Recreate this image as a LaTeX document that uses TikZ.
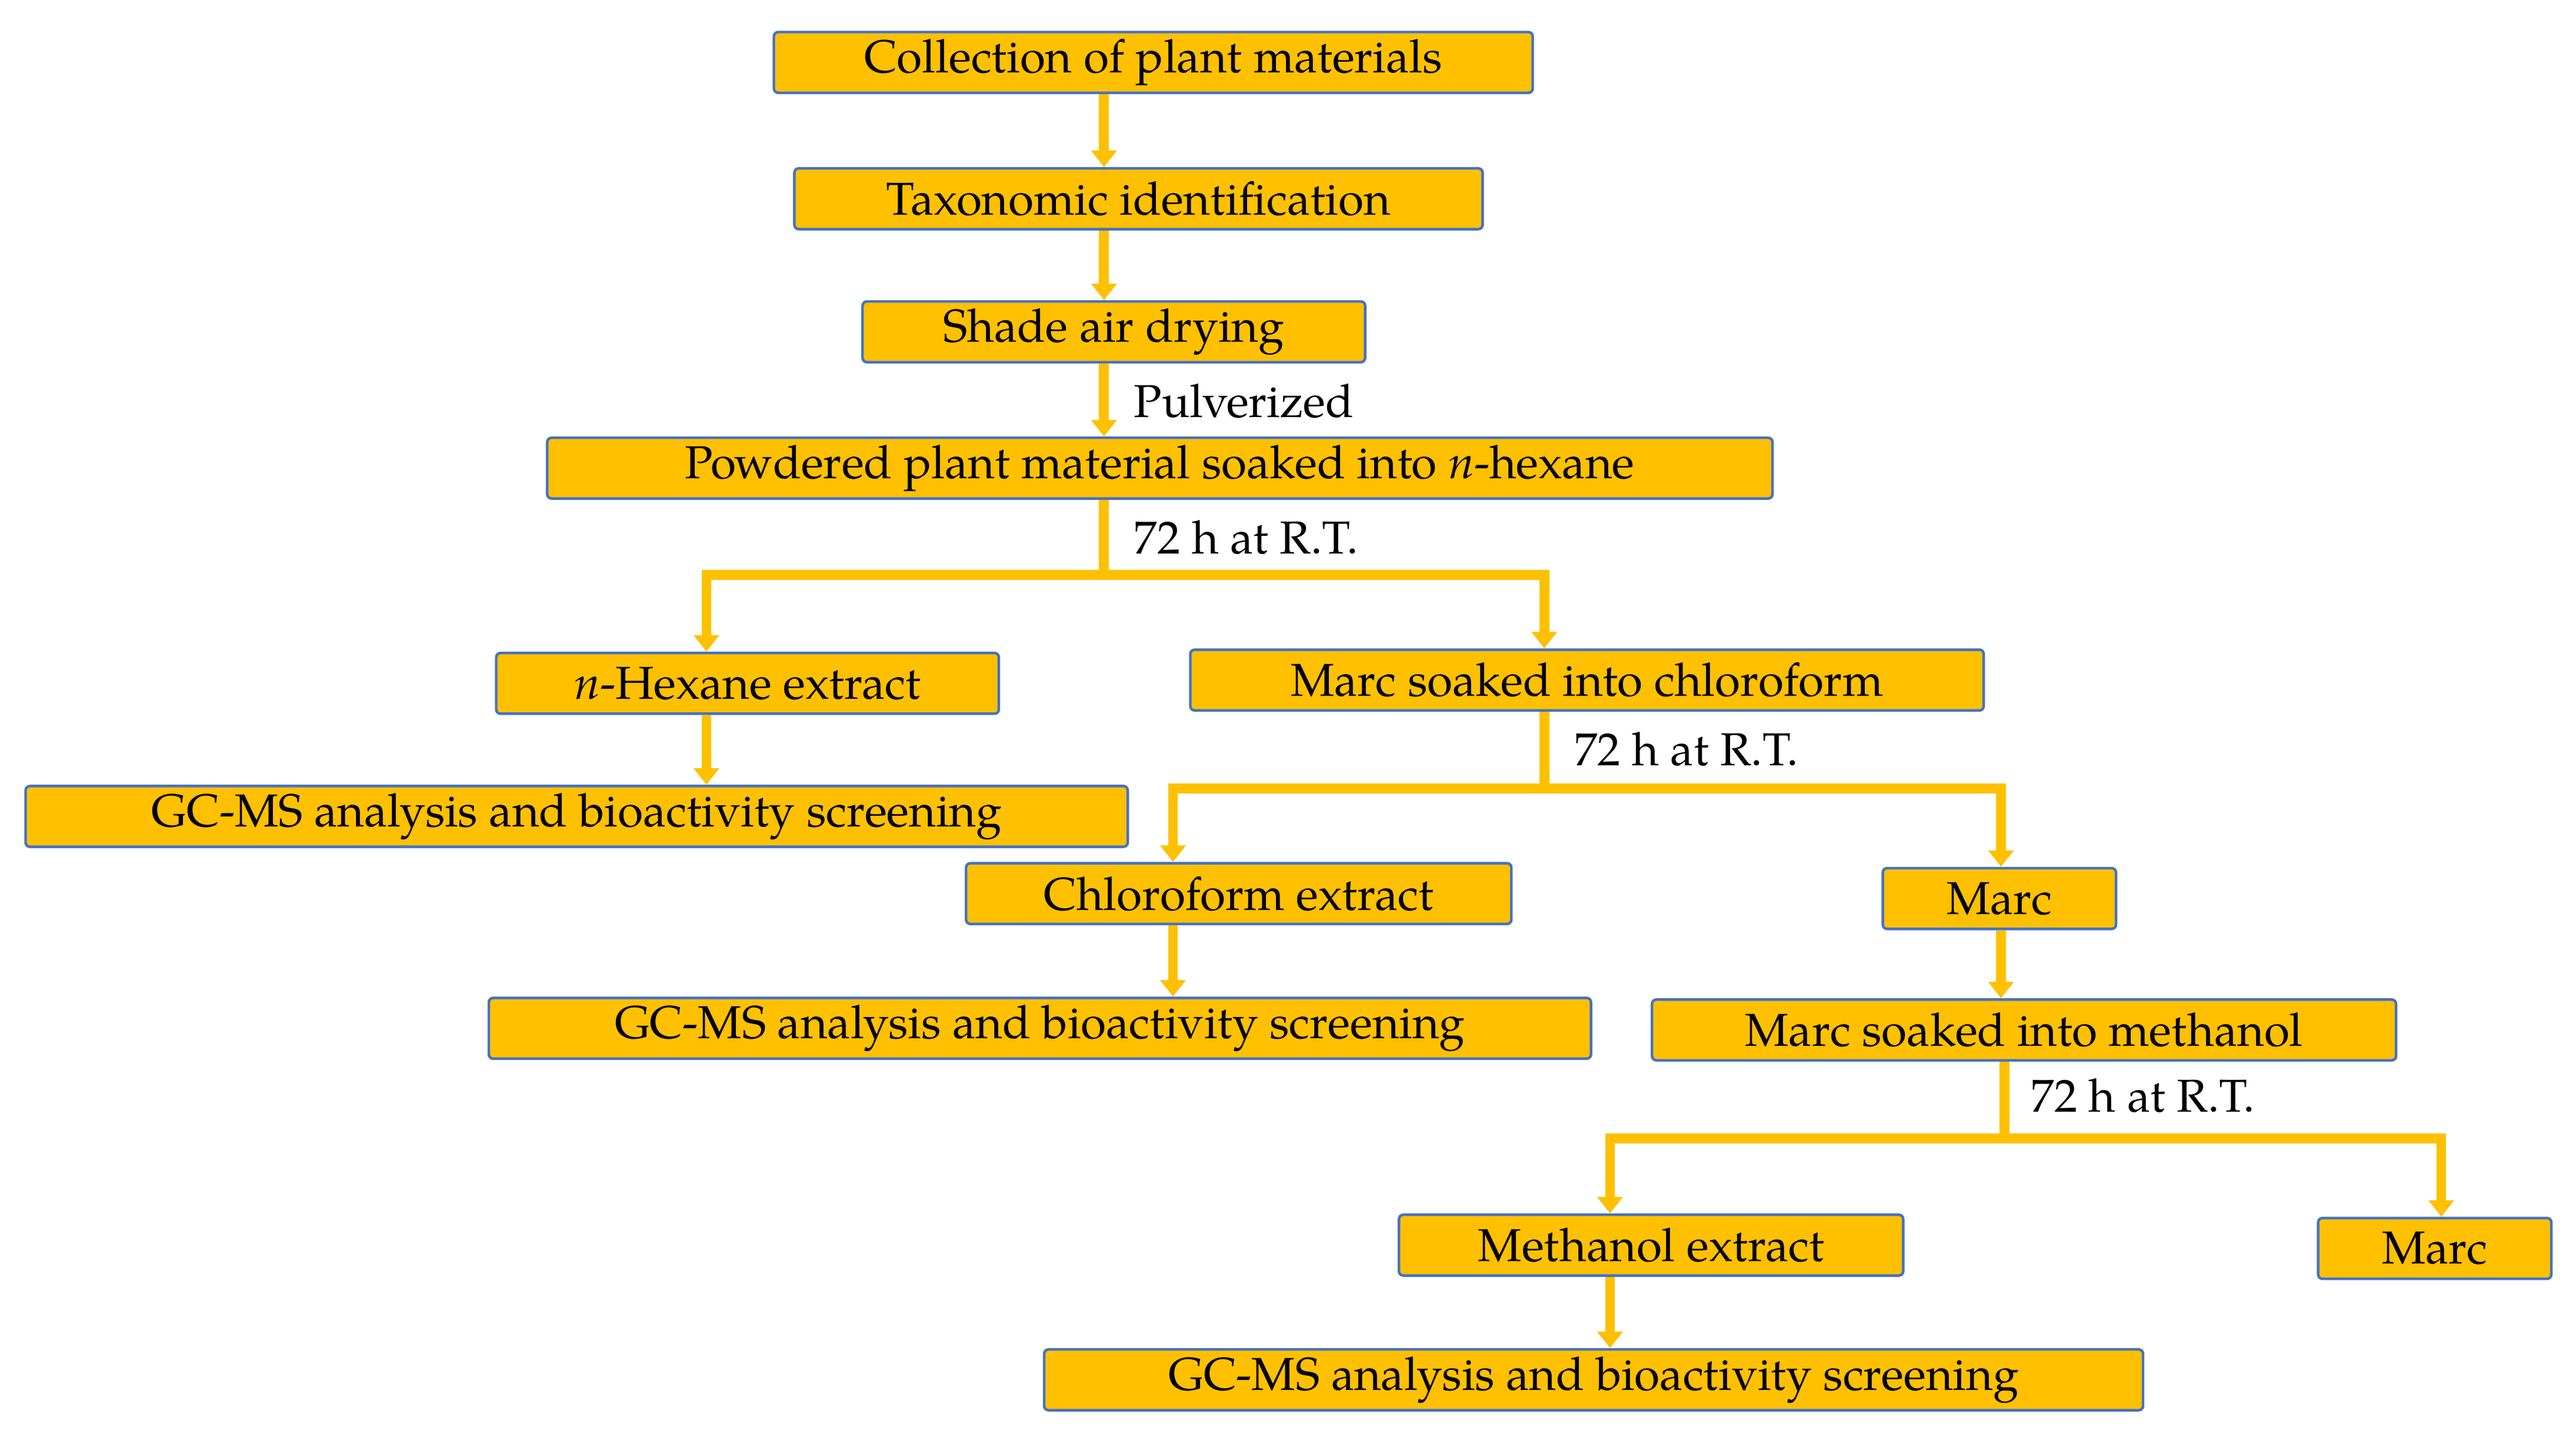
\documentclass[tikz,border=0pt]{standalone}
\usepackage{fontspec}
\setmainfont{TeX Gyre Pagella}
\usetikzlibrary{arrows.meta}
\definecolor{boxy}{HTML}{FFC000}
\definecolor{edge}{HTML}{4472C4}
\tikzset{
 bx/.style={draw=edge,line width=0.9pt,fill=boxy,rounded corners=1.5pt,minimum height=0.74cm,inner sep=0pt,font=\fontsize{16}{18}\selectfont},
 ar/.style={draw=boxy,line width=0.12cm,-{Triangle[width=0.3cm,length=0.2cm]}},
 ln/.style={draw=boxy,line width=0.12cm},
 lb/.style={anchor=west,inner sep=0pt,font=\fontsize{16}{18}\selectfont}
}
\begin{document}
\begin{tikzpicture}[x=0.02cm,y=-0.02cm]
\useasboundingbox (0,0) rectangle (1568,879);
\node[bx,minimum width=9.24cm] (a) at (702,38) {Collection of plant materials};
\node[bx,minimum width=8.38cm] (b) at (693,121) {Taxonomic identification};
\node[bx,minimum width=6.12cm] (c) at (678,202) {Shade air drying};
\node[bx,minimum width=14.92cm] (d) at (706,285) {Powdered plant material soaked into \textit{n}-hexane};
\node[bx,minimum width=6.12cm] (e) at (455,416) {\textit{n}-Hexane extract};
\node[bx,minimum width=9.66cm] (f) at (966,414) {Marc soaked into chloroform};
\node[bx,minimum width=13.42cm] (g) at (351,497) {GC-MS analysis and bioactivity screening};
\node[bx,minimum width=6.64cm] (h) at (754,544) {Chloroform extract};
\node[bx,minimum width=2.84cm] (i) at (1217,547) {Marc};
\node[bx,minimum width=13.42cm] (j) at (633,626) {GC-MS analysis and bioactivity screening};
\node[bx,minimum width=9.06cm] (k) at (1232,627) {Marc soaked into methanol};
\node[bx,minimum width=6.14cm] (l) at (1005,758) {Methanol extract};
\node[bx,minimum width=2.84cm] (m) at (1482,760) {Marc};
\node[bx,minimum width=13.38cm] (n) at (970,840) {GC-MS analysis and bioactivity screening};
% labels
\node[lb] (p1) at (690,244) {Pulverized};
\node[lb] (p2) at (690,327) {72 h at R.T.};
\node[lb] (p3) at (958,456) {72 h at R.T.};
\node[lb] (p4) at (1236,667) {72 h at R.T.};
% simple arrows
\coordinate (x1) at (672,0);
\draw[ar] (a.south -| x1) -- (b.north -| x1);
\draw[ar] (b.south -| x1) -- (c.north -| x1);
\draw[ar] (c.south -| x1) -- (d.north -| x1);
% branch 1
\coordinate (j1) at (672,350);
\coordinate (j1l) at (430,350);
\coordinate (j1r) at (940,350);
\draw[ln] (d.south -| j1) -- (j1);
\draw[ln,line cap=rect] (j1l) -- (j1r);
\draw[ar] (j1l) -- (e.north -| j1l);
\draw[ar] (j1r) -- (f.north -| j1r);
\draw[ar] (e.south -| j1l) -- (g.north -| j1l);
% branch 2
\coordinate (j2) at (940,480);
\coordinate (j2l) at (714,480);
\coordinate (j2r) at (1218,480);
\draw[ln] (f.south -| j2) -- (j2);
\draw[ln,line cap=rect] (j2l) -- (j2r);
\draw[ar] (j2l) -- (h.north -| j2l);
\draw[ar] (j2r) -- (i.north -| j2r);
\draw[ar] (h.south -| j2l) -- (j.north -| j2l);
\draw[ar] (i.south -| j2r) -- (k.north -| j2r);
% branch 3
\coordinate (j3) at (1220,693);
\coordinate (j3l) at (980,693);
\coordinate (j3r) at (1486,693);
\draw[ln] (k.south -| j3) -- (j3);
\draw[ln,line cap=rect] (j3l) -- (j3r);
\draw[ar] (j3l) -- (l.north -| j3l);
\draw[ar] (j3r) -- (m.north -| j3r);
\draw[ar] (l.south -| j3l) -- (n.north -| j3l);
\end{tikzpicture}
\end{document}
